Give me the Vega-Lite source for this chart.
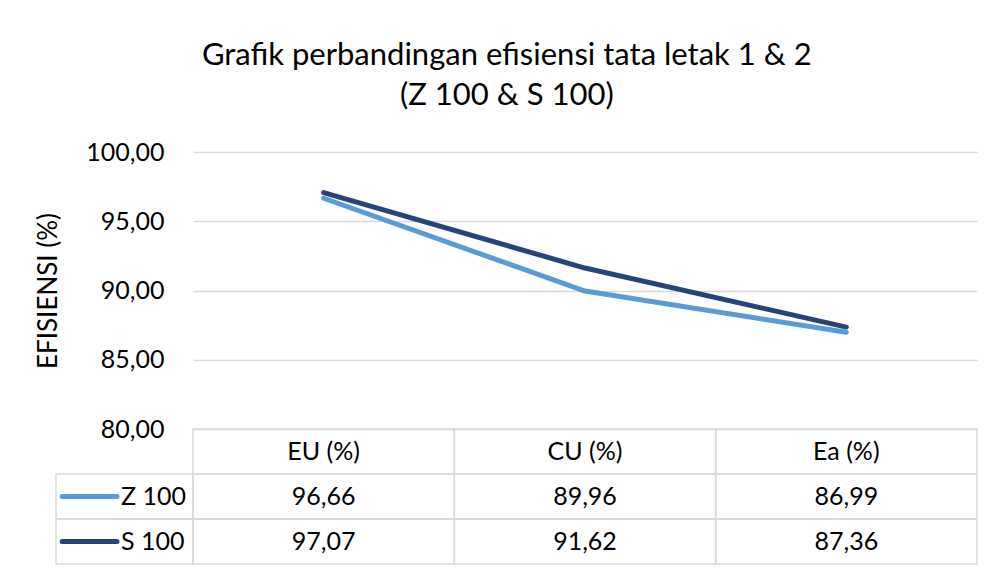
{
  "$schema": "https://vega.github.io/schema/vega-lite/v6.json",
  "background": "white",
  "padding": {"left": 35, "top": 40, "right": 5, "bottom": 5},
  "title": {
    "text": ["Grafik perbandingan efisiensi tata letak 1 & 2", "(Z 100 & S 100)"],
    "anchor": "middle",
    "font": "Lato",
    "fontSize": 31,
    "fontWeight": "normal",
    "color": "#000000",
    "lineHeight": 40,
    "offset": 28
  },
  "data": {
    "values": [
      {"series": "Z 100", "metric": "EU (%)", "value": 96.66},
      {"series": "Z 100", "metric": "CU (%)", "value": 89.96},
      {"series": "Z 100", "metric": "Ea (%)", "value": 86.99},
      {"series": "S 100", "metric": "EU (%)", "value": 97.07},
      {"series": "S 100", "metric": "CU (%)", "value": 91.62},
      {"series": "S 100", "metric": "Ea (%)", "value": 87.36}
    ]
  },
  "columns": 2,
  "spacing": 0,
  "bounds": "flush",
  "concat": [
    {
      "width": 137,
      "height": 277,
      "mark": {"type": "text", "text": ""},
      "encoding": {}
    },
    {
      "width": 784,
      "height": 277,
      "mark": {"type": "line", "strokeWidth": 5, "strokeCap": "round", "strokeJoin": "round"},
      "encoding": {
        "x": {
          "field": "metric",
          "type": "nominal",
          "sort": ["EU (%)", "CU (%)", "Ea (%)"],
          "scale": {"type": "point", "padding": 0.5},
          "axis": null
        },
        "y": {
          "field": "value",
          "type": "quantitative",
          "scale": {"domain": [80, 100], "nice": false, "zero": false},
          "axis": {
            "title": "EFISIENSI (%)",
            "values": [80, 85, 90, 95, 100],
            "format": ".2f",
            "labelFont": "Lato",
            "labelFontSize": 25,
            "labelColor": "#000000",
            "labelPadding": 29,
            "labelFlush": false,
            "ticks": false,
            "domain": false,
            "grid": true,
            "gridColor": "#D9D9D9",
            "gridWidth": 1.5,
            "titleFont": "Lato",
            "titleFontSize": 26,
            "titleFontWeight": "normal",
            "titleColor": "#000000",
            "titlePadding": 24
          }
        },
        "color": {
          "field": "series",
          "type": "nominal",
          "scale": {"domain": ["Z 100", "S 100"], "range": ["#5B9BD5", "#264478"]},
          "legend": null
        }
      }
    },
    {
      "width": 137,
      "height": 135,
      "transform": [{"filter": "datum.metric === 'EU (%)'"}],
      "layer": [
        {
          "mark": {"type": "rect", "fill": "transparent", "stroke": "#D9D9D9", "strokeWidth": 1.5},
          "encoding": {
            "x": {"datum": 0, "type": "quantitative", "scale": {"domain": [0, 1]}, "axis": null},
            "x2": {"datum": 1},
            "y": {
              "field": "series",
              "type": "nominal",
              "scale": {"domain": ["header", "Z 100", "S 100"], "paddingInner": 0, "paddingOuter": 0},
              "axis": null
            }
          }
        },
        {
          "mark": {"type": "rule", "strokeWidth": 5, "strokeCap": "round"},
          "encoding": {
            "x": {"datum": 0.045, "type": "quantitative", "axis": null},
            "x2": {"datum": 0.445},
            "y": {"field": "series", "type": "nominal", "axis": null},
            "color": {
              "field": "series",
              "type": "nominal",
              "scale": {"domain": ["Z 100", "S 100"], "range": ["#5B9BD5", "#264478"]},
              "legend": null
            }
          }
        },
        {
          "mark": {"type": "text", "align": "left", "baseline": "middle", "font": "Lato", "fontSize": 25, "color": "#000000"},
          "encoding": {
            "x": {"datum": 0.475, "type": "quantitative", "axis": null},
            "y": {"field": "series", "type": "nominal", "axis": null},
            "text": {"field": "series", "type": "nominal"}
          }
        }
      ]
    },
    {
      "width": 784,
      "height": 135,
      "layer": [
        {
          "mark": {"type": "rect", "fill": "transparent", "stroke": "#D9D9D9", "strokeWidth": 1.5},
          "encoding": {
            "x": {
              "field": "metric",
              "type": "nominal",
              "sort": ["EU (%)", "CU (%)", "Ea (%)"],
              "scale": {"paddingInner": 0, "paddingOuter": 0},
              "axis": null
            },
            "y": {
              "field": "series",
              "type": "nominal",
              "scale": {"domain": ["header", "Z 100", "S 100"], "paddingInner": 0, "paddingOuter": 0},
              "axis": null
            }
          }
        },
        {
          "transform": [{"filter": "datum.series === 'Z 100'"}],
          "mark": {"type": "rect", "fill": "transparent", "stroke": "#D9D9D9", "strokeWidth": 1.5},
          "encoding": {
            "x": {"field": "metric", "type": "nominal", "sort": ["EU (%)", "CU (%)", "Ea (%)"], "axis": null},
            "y": {"datum": "header", "type": "nominal", "axis": null}
          }
        },
        {
          "mark": {"type": "text", "baseline": "middle", "font": "Lato", "fontSize": 25, "color": "#000000"},
          "encoding": {
            "x": {"field": "metric", "type": "nominal", "sort": ["EU (%)", "CU (%)", "Ea (%)"], "axis": null},
            "y": {"field": "series", "type": "nominal", "axis": null},
            "text": {"field": "value", "type": "quantitative", "format": ".2f"}
          }
        },
        {
          "transform": [{"filter": "datum.series === 'Z 100'"}],
          "mark": {"type": "text", "baseline": "middle", "font": "Lato", "fontSize": 25, "color": "#000000"},
          "encoding": {
            "x": {"field": "metric", "type": "nominal", "sort": ["EU (%)", "CU (%)", "Ea (%)"], "axis": null},
            "y": {"datum": "header", "type": "nominal", "axis": null},
            "text": {"field": "metric", "type": "nominal"}
          }
        }
      ]
    }
  ],
  "resolve": {
    "scale": {"x": "independent", "y": "independent", "color": "independent"},
    "axis": {"x": "independent", "y": "independent"},
    "legend": {"color": "independent"}
  },
  "config": {
    "font": "Lato",
    "view": {"stroke": null},
    "locale": {
      "number": {"decimal": ",", "thousands": ".", "grouping": [3], "currency": ["", " €"]}
    }
  }
}
